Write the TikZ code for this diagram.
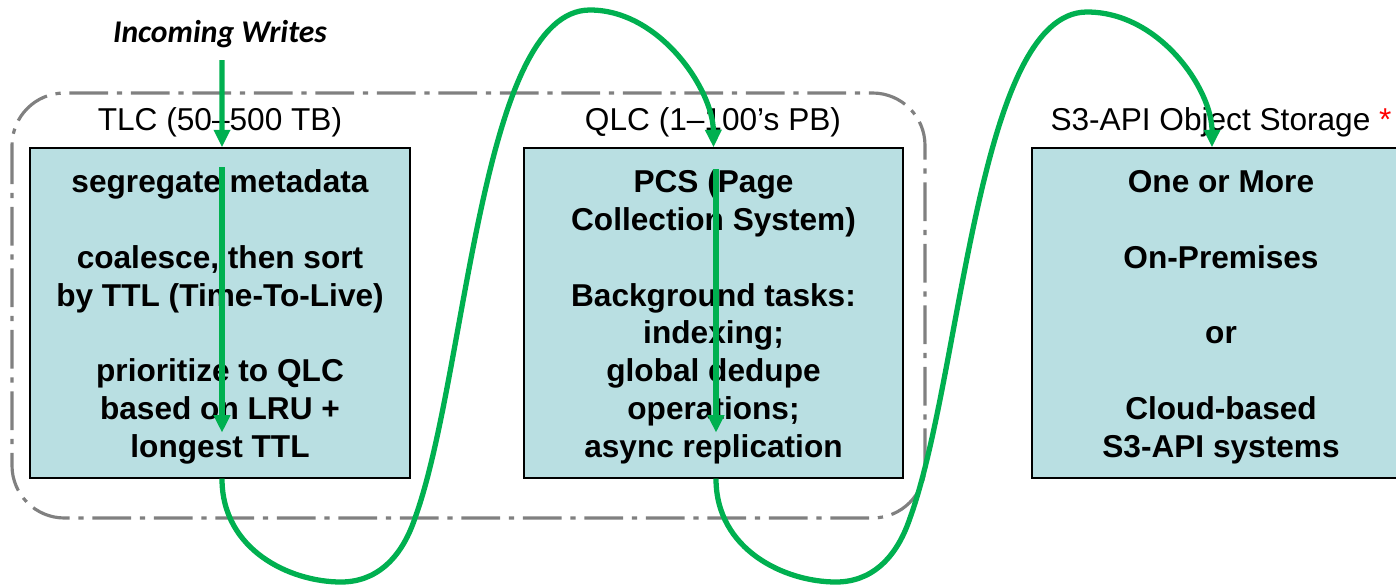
\documentclass[tikz,border=0pt]{standalone}
\usepackage{fontspec}
\setmainfont{Liberation Sans}
\newfontfamily\writesfont{Carlito}
\usetikzlibrary{arrows.meta}
\definecolor{flowgreen}{HTML}{00B050}
\definecolor{tierfill}{HTML}{B9DFE2}
\definecolor{groupgray}{HTML}{808080}
\newcommand\toppad{\rule{0pt}{17.5pt}}

\begin{document}
\begin{tikzpicture}[x=0.02cm,y=-0.02cm,
    tier/.style={draw=black,line width=0.8pt,fill=tierfill,minimum height=6.6cm,
      inner sep=0pt,align=center,font=\fontsize{18}{21.5}\selectfont\bfseries},
    tierlabel/.style={anchor=base,font=\fontsize{18}{21.5}\selectfont},
    flow/.style={draw=flowgreen,line width=3pt,-{Triangle[length=10pt,width=9pt]}},
    group/.style={draw=groupgray,line width=1.8pt,
      dash pattern=on 22pt off 5pt on 3pt off 5pt,rounded corners=1.05cm}]

  \useasboundingbox (0,0) rectangle (1396,585);

  % flash tiers grouped together
  \draw[group] (12,93) rectangle (925,518);

  % storage tiers
  \node[tier,minimum width=7.6cm] (tlc) at (220,313)
    {\toppad segregate metadata\\[21.5pt]
     coalesce, then sort\\by TTL (Time-To-Live)\\[21.5pt]
     prioritize to QLC\\based on LRU +\\longest TTL};
  \node[tier,minimum width=7.58cm] (qlc) at (713.5,313)
    {\toppad PCS (Page\\Collection System)\\[21.5pt]
     Background tasks:\\indexing;\\global dedupe\\operations;\\async replication};
  \node[tier,minimum width=7.56cm] (s3) at (1221,313)
    {\toppad One or More\\[21.5pt]On-Premises\\[21.5pt]or\\[21.5pt]
     Cloud-based\\S3-API systems};

  % tier titles
  \node[tierlabel] (tlclabel) at (220,130) {TLC (50--500 TB)};
  \node[tierlabel] (qlclabel) at (713,130) {QLC (1--100’s PB)};
  \node[tierlabel] (s3label) at (1221,130)
    {S3-API Object Storage \textcolor{red}{*}};

  \node[anchor=base,font=\writesfont\fontsize{18}{21.5}\selectfont\bfseries\itshape]
    (writes) at (220,42) {Incoming Writes};
  \coordinate (in) at (222,60);

  % data flow
  \draw[flow] (in) -- ([xshift=0.04cm]tlc.north);
  \draw[flow] ([xshift=0.04cm,yshift=-0.4cm]tlc.north)
    -- ([xshift=0.04cm,yshift=0.92cm]tlc.south);
  \draw[flow] ([xshift=0.04cm]tlc.south)
    .. controls (222,550) and (290,582) .. (341,582)
    .. controls (375,582) and (401,560) .. (415,518)
    .. controls (467,375) and (480,10) .. (590,10)
    .. controls (660,10) and (713,90) .. (qlc.north);
  \draw[flow] ([xshift=0.05cm,yshift=-0.44cm]qlc.north)
    -- ([xshift=0.05cm,yshift=0.92cm]qlc.south);
  \draw[flow] ([xshift=0.05cm]qlc.south)
    .. controls (716,550) and (785,582) .. (836,582)
    .. controls (870,582) and (896,560) .. (910,518)
    .. controls (962,375) and (977,12) .. (1087,12)
    .. controls (1160,12) and (1212,90) .. ([xshift=-0.18cm]s3.north);
\end{tikzpicture}
\end{document}
